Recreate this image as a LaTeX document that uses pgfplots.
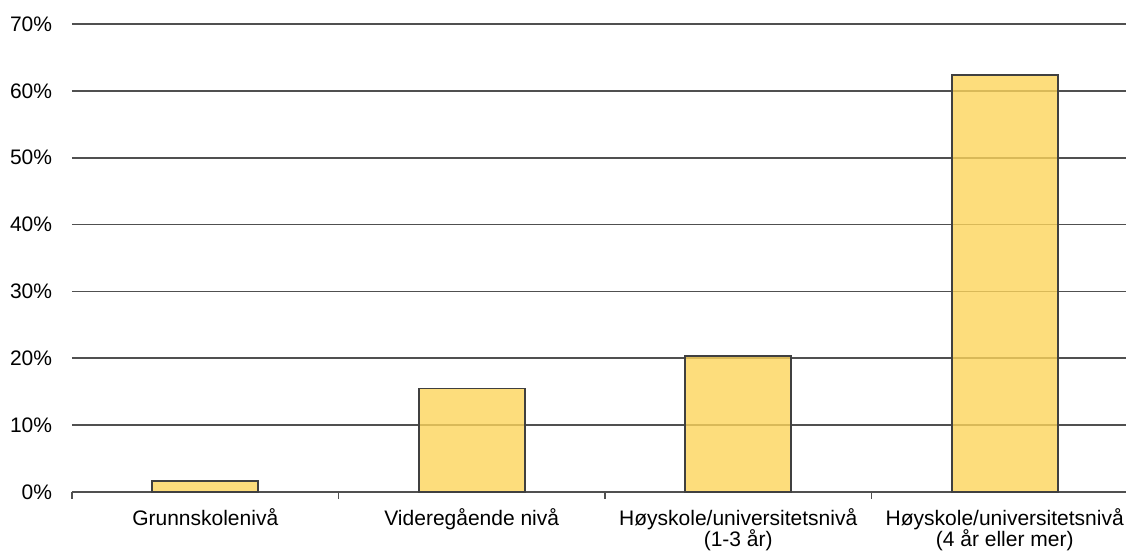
\documentclass[border=0pt]{standalone}
\usepackage{pgfplots}
\pgfplotsset{compat=1.18}
\usepackage{fontspec}
\setmainfont{Liberation Sans}
\definecolor{barfill}{RGB}{252,212,91}
\definecolor{baredge}{RGB}{64,64,64}
\definecolor{gridc}{RGB}{80,80,80}
\begin{document}
\fontsize{10.5}{9.8}\selectfont
\begin{tikzpicture}
\path[use as bounding box] (-36pt,-30pt) rectangle (527pt,246pt);
\begin{axis}[
  at={(0,0)}, anchor=south west,
  scale only axis, width=533pt, height=234pt,
  xmin=-0.5, xmax=3.5, ymin=0, ymax=70,
  axis line style={draw=none},
  ytick={0,10,...,70},
  yticklabel={\pgfmathprintnumber{\tick}\%},
  /pgf/number format/assume math mode=true,
  ymajorgrids, grid style={gridc, line width=0.8pt},
  major y tick style={draw=none},
  xtick={0,1,2,3},
  xticklabels={Grunnskolenivå, Videregående nivå, Høyskole/universitetsnivå\\[-1.8pt](1-3 år), Høyskole/universitetsnivå\\[-1.8pt](4 år eller mer)},
  major x tick style={draw=none},
  minor xtick={-0.5,0.5,1.5,2.5,3.5},
  minor x tick style={gridc, line width=0.8pt},
  minor tick length=3.5pt,
  tick align=outside,
  xtick pos=bottom, ytick pos=left,
  xticklabel style={align=center, font=\fontsize{10.5}{12}\selectfont, yshift=-0.5pt},
  yticklabel style={font=\fontsize{10.5}{12}\selectfont, xshift=-2pt},
  tick label style={font=\fontsize{10.5}{12}\selectfont},
  ybar, bar width=53pt,
  clip=false,
]
\addplot[fill=barfill, fill opacity=0.8, draw=baredge, line width=0.8pt]
  coordinates {(0,1.65) (1,15.5) (2,20.3) (3,62.4)};
\end{axis}
\end{tikzpicture}
\end{document}
